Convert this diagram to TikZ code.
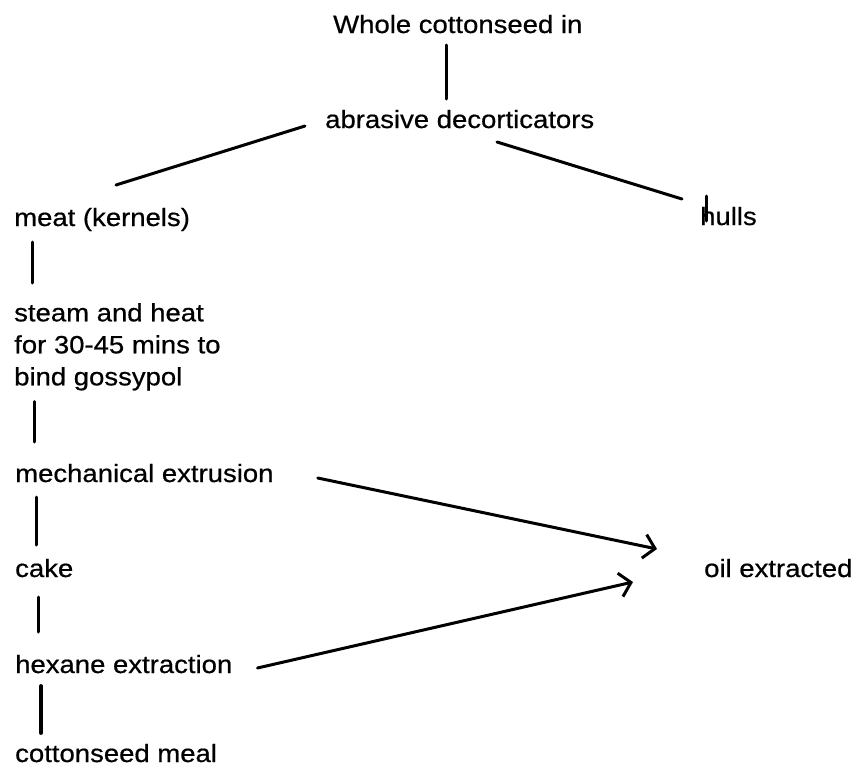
\documentclass[tikz,border=0pt]{standalone}
\usepackage{fontspec}
\setmainfont{Liberation Sans}[FakeStretch=1.1,FakeBold=0.6]
\usepackage{tikz}
\usetikzlibrary{arrows.meta}

\begin{document}
\begin{tikzpicture}[x=1pt,y=-1pt,
  txt/.style={anchor=base west,inner sep=0pt,font=\fontsize{25}{32}\selectfont},
  flow/.style={line width=3pt,line cap=round},
  >={Straight Barb[length=11pt,width=24pt,line width=3pt]}]
\useasboundingbox (0,0) rectangle (860,771);
\node[txt] (whole) at (333,33){Whole cottonseed in};
\node[txt] (abr) at (325,128){abrasive decorticators};
\node[txt] (meat) at (14,226){meat (kernels)};
\node[txt] (hulls) at (700,225){hulls};
\node[txt,anchor=north west,align=left] (steam) at (14,303){steam and heat\\for 30-45 mins to\\bind gossypol};
\node[txt] (mech) at (15,482){mechanical extrusion};
\node[txt] (cake) at (15,577){cake};
\node[txt] (oil) at (704,577){oil extracted};
\node[txt] (hexane) at (15,673){hexane extraction};
\node[txt] (meal) at (15,762){cottonseed meal};
% splitting
\draw[flow] ([shift={(113,12)}]whole.base west)--([shift={(121,-29)}]abr.base west);
\draw[flow] ([shift={(-20,-2)}]abr.base west)--([shift={(102,-41)}]meat.base west);
\draw[flow] ([shift={(172,14)}]abr.base west)--([shift={(-18,-26)}]hulls.base west);
\draw[flow] ([shift={(6,-29)}]hulls.base west)--([shift={(6,-4)}]hulls.base west);
% left column
\draw[flow] ([shift={(18,16)}]meat.base west)--([shift={(18,-20)}]steam.north west);
\draw[flow] ([shift={(20,11)}]steam.south west)--([shift={(19,-40)}]mech.base west);
\draw[flow] ([shift={(21,15)}]mech.base west)--([shift={(21,-32)}]cake.base west);
\draw[flow] ([shift={(23,20)}]cake.base west)--([shift={(23,-41)}]hexane.base west);
\draw[flow,line width=3.8pt] ([shift={(26,13)}]hexane.base west)--([shift={(26,-29)}]meal.base west);
% oil
\draw[flow,->] ([shift={(44,-4)}]mech.base east)--([shift={(-47,-28)}]oil.base west);
\draw[flow,->] ([shift={(25,-5)}]hexane.base east)--([shift={(-71,5)}]oil.base west);
\end{tikzpicture}
\end{document}
